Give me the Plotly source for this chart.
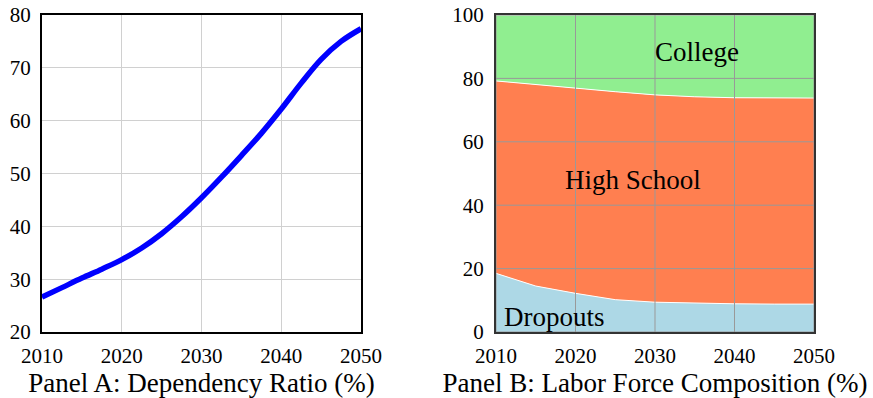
import plotly.graph_objects as go
from plotly.subplots import make_subplots

years_a = [2010, 2012.5, 2015, 2017.5, 2020, 2022.5, 2025, 2027.5, 2030,
           2032.5, 2035, 2037.5, 2040, 2042.5, 2045, 2047.5, 2050]
dependency_ratio = [26.6, 28.4, 30.2, 31.9, 33.7, 35.9, 38.6, 41.8, 45.4,
                    49.3, 53.4, 57.6, 62.2, 67.1, 71.6, 75.0, 77.4]

years = [2010, 2015, 2020, 2025, 2030, 2035, 2040, 2045, 2050]
dropouts = [18.5, 14.5, 12.2, 10.2, 9.4, 9.1, 8.9, 8.8, 8.8]
high_school = [60.7, 63.5, 64.7, 65.6, 65.4, 65.1, 65.0, 65.0, 65.0]
college = [20.8, 22.0, 23.1, 24.2, 25.2, 25.8, 26.1, 26.2, 26.2]

x_ticks = [2010, 2020, 2030, 2040, 2050]
yA_ticks = [20, 30, 40, 50, 60, 70, 80]
yB_ticks = [0, 20, 40, 60, 80, 100]

FONT = "Liberation Serif, Times New Roman, serif"
W, H = 873, 398

fig = make_subplots(rows=1, cols=2)

fig.add_trace(go.Scatter(x=years_a, y=dependency_ratio, mode="lines",
                         line=dict(color="#0000ff", width=5.5, shape="spline",
                                   smoothing=1.0),
                         showlegend=False), row=1, col=1)

for name, vals, col in [("Dropouts", dropouts, "#add8e6"),
                        ("High School", high_school, "#ff7f50"),
                        ("College", college, "#90ee90")]:
    fig.add_trace(go.Scatter(x=years, y=vals, mode="lines", stackgroup="b",
                             name=name, fillcolor=col,
                             line=dict(color="white", width=1),
                             showlegend=False), row=1, col=2)

common = dict(ticks="", zeroline=False, automargin=False,
              tickfont=dict(family=FONT, size=21, color="black"))

fig.update_layout(
    width=W, height=H,
    margin=dict(l=0, r=0, t=15, b=66),
    paper_bgcolor="white", plot_bgcolor="white",
    font=dict(family=FONT, size=21, color="black"),
    xaxis=dict(domain=[42 / W, 361 / W], range=[2010, 2050], tickvals=x_ticks,
               showgrid=True, gridcolor="#d0d0d0", gridwidth=1,
               showline=True, linecolor="black", linewidth=2, mirror=True,
               ticklabelstandoff=4,
               title=dict(text="Panel A: Dependency Ratio (%)",
                          font=dict(family=FONT, size=27), standoff=4),
               **common),
    yaxis=dict(range=[20, 80], tickvals=yA_ticks,
               showgrid=True, gridcolor="#d0d0d0", gridwidth=1,
               showline=True, linecolor="black", linewidth=2, mirror=True,
               ticklabelstandoff=5,
               **common),
    xaxis2=dict(domain=[496 / W, 814 / W], range=[2010, 2050], tickvals=x_ticks,
                showgrid=False, showline=True, linecolor="#333333", linewidth=2,
                mirror=True, layer="above traces", ticklabelstandoff=4,
                title=dict(text="Panel B: Labor Force Composition (%)",
                           font=dict(family=FONT, size=27), standoff=4),
                **common),
    yaxis2=dict(range=[0, 100], tickvals=yB_ticks, showgrid=False,
                showline=True, linecolor="#333333", linewidth=2, mirror=True,
                layer="above traces", ticklabelstandoff=6, **common),
)

shapes = []
for xv in x_ticks:
    shapes.append(dict(type="line", xref="x2", yref="y2 domain", x0=xv, x1=xv,
                       y0=0, y1=1, line=dict(color="#999999", width=1), layer="above"))
for yv in yB_ticks:
    shapes.append(dict(type="line", xref="x2 domain", yref="y2", x0=0, x1=1,
                       y0=yv, y1=yv, line=dict(color="#999999", width=1), layer="above"))
fig.update_layout(shapes=shapes)

for text, xv, yv in [("College", 2035.3, 88.3), ("High School", 2027.2, 48.0),
                     ("Dropouts", 2017.3, 4.7)]:
    fig.add_annotation(text=text, x=xv, y=yv, xref="x2", yref="y2",
                       showarrow=False, font=dict(size=27, family=FONT, color="black"))

fig.write_html("out.html", config={"displayModeBar": False},
               post_script="document.body.style.margin='0';")
